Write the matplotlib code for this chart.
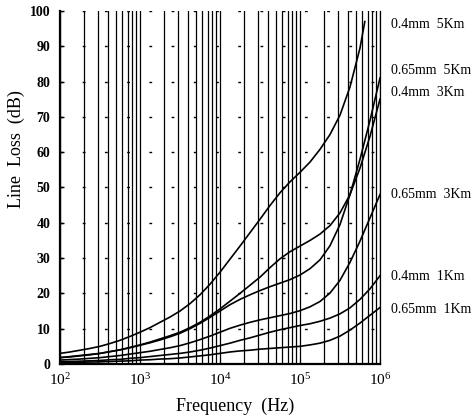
import matplotlib
matplotlib.use("Agg")
import matplotlib.pyplot as plt
import numpy as np
from matplotlib.ticker import LogFormatterMathtext, LogLocator, NullFormatter
from matplotlib.transforms import blended_transform_factory

plt.rcParams['font.family'] = ['Liberation Serif', 'DejaVu Serif']
plt.rcParams['mathtext.fontset'] = 'stix'

# log10 of frequency (Hz) at which the values were read
log_freq = [2.0, 2.125, 2.25, 2.375, 2.5, 2.625, 2.75, 2.875, 3.0, 3.125, 3.25,
            3.375, 3.5, 3.625, 3.75, 3.875, 4.0, 4.125, 4.25, 4.375, 4.5,
            4.625, 4.75, 4.875, 5.0, 5.125, 5.25, 5.375, 5.5, 5.625, 5.75,
            5.875, 6.0]
# the 0.4mm 5Km curve leaves the chart early
log_freq_04_5k = log_freq[:31] + [5.81]

# line loss (dB)
loss_04_5k = [3.0, 3.4, 3.9, 4.4, 5.0, 5.8, 6.7, 7.8, 9.0, 10.3, 11.8,
              13.3, 15.0, 17.1, 19.6, 22.6, 26.0, 29.7, 33.4, 37.2, 41.0,
              44.9, 48.5, 51.6, 54.3, 57.2, 60.8, 65.0, 70.5, 78.5, 89.5,
              97.0]
loss_065_5k = [1.8, 2.1, 2.4, 2.7, 3.0, 3.5, 4.0, 4.6, 5.3, 6.0, 6.8,
               7.7, 8.7, 10.0, 11.5, 13.2, 15.0, 16.8, 18.3, 19.6, 20.8,
               21.9, 22.9, 23.9, 25.2, 27.0, 29.5, 33.5, 39.5, 48.0, 58.0,
               69.0, 81.0]
loss_04_3k = [1.8, 2.0, 2.3, 2.6, 3.0, 3.5, 4.0, 4.7, 5.4, 6.2, 7.1,
              8.0, 9.0, 10.3, 11.8, 13.6, 15.6, 17.8, 20.0, 22.3, 24.6,
              27.3, 29.8, 31.8, 33.4, 35.0, 36.8, 39.2, 42.8, 48.0, 55.5,
              64.5, 75.0]
loss_065_3k = [1.1, 1.25, 1.4, 1.6, 1.8, 2.1, 2.4, 2.8, 3.2, 3.6, 4.1,
               4.6, 5.2, 6.0, 6.9, 7.9, 9.0, 10.1, 11.0, 11.8, 12.5,
               13.1, 13.7, 14.3, 15.1, 16.2, 17.7, 20.1, 23.7, 28.8, 34.8,
               41.4, 48.0]
loss_04_1k = [0.6, 0.7, 0.8, 0.9, 1.0, 1.2, 1.3, 1.6, 1.8, 2.1, 2.4,
              2.7, 3.0, 3.4, 3.9, 4.5, 5.2, 5.9, 6.7, 7.4, 8.2,
              9.0, 9.7, 10.3, 10.9, 11.4, 12.1, 13.0, 14.2, 15.9, 18.3,
              21.3, 25.0]
loss_065_1k = [0.35, 0.4, 0.5, 0.55, 0.6, 0.7, 0.8, 0.9, 1.1, 1.2, 1.4,
               1.5, 1.7, 2.0, 2.3, 2.6, 3.0, 3.4, 3.7, 3.9, 4.2,
               4.4, 4.6, 4.8, 5.0, 5.4, 5.9, 6.7, 7.9, 9.6, 11.6,
               13.8, 16.0]

curves = [(log_freq_04_5k, loss_04_5k), (log_freq, loss_065_5k), (log_freq, loss_04_3k),
          (log_freq, loss_065_3k), (log_freq, loss_04_1k), (log_freq, loss_065_1k)]

labels = ["0.4mm  5Km", "0.65mm  5Km", "0.4mm  3Km", "0.65mm  3Km", "0.4mm  1Km", "0.65mm  1Km"]
label_y = [96.3, 83.0, 77.0, 47.9, 24.9, 15.3]

fig = plt.figure(figsize=(4.75, 4.19), dpi=100)
ax = fig.add_axes([0.1263, 0.1313, 0.6737, 0.8425])

for lf, vals in curves:
    ax.plot(10 ** np.array(lf), vals, color='black', lw=1.2)

ax.set_xscale('log')
ax.set_xlim(1e2, 1e6)
ax.set_ylim(0, 100)
ax.set_yticks(np.arange(0, 101, 10))

ax.xaxis.set_major_locator(LogLocator(base=10))
ax.xaxis.set_minor_locator(LogLocator(base=10, subs=np.arange(2, 10)))
ax.xaxis.set_major_formatter(LogFormatterMathtext())
ax.xaxis.set_minor_formatter(NullFormatter())

# solid vertical lines, sparse dotted horizontal lines
ax.grid(axis='x', which='both', color='black', lw=0.9, ls='-')
ax.grid(axis='y', which='major', color='black', lw=1.0, ls=(0, (2, 14)))

ax.spines['top'].set_visible(False)
ax.spines['left'].set_linewidth(1.6)
ax.spines['bottom'].set_linewidth(1.6)
ax.spines['right'].set_linewidth(0.9)

ax.tick_params(axis='y', direction='in', length=3, width=1, labelsize=10, pad=7)
ax.tick_params(axis='x', which='major', direction='in', length=4, labelsize=11, pad=6)
ax.tick_params(axis='x', which='minor', direction='in', length=2)
for t in ax.get_yticklabels():
    t.set_fontweight('bold')

ax.set_xlabel("Frequency  (Hz)", fontsize=13)
ax.xaxis.set_label_coords(0.547, -0.095)
ax.set_ylabel("Line  Loss  (dB)", fontsize=13)
ax.yaxis.set_label_coords(-0.11, 0.61)

trans = blended_transform_factory(ax.transAxes, ax.transData)
for txt, y in zip(labels, label_y):
    ax.text(1.035, y, txt, transform=trans, fontsize=10, va='center', ha='left')

plt.savefig("out.png", dpi=100)
